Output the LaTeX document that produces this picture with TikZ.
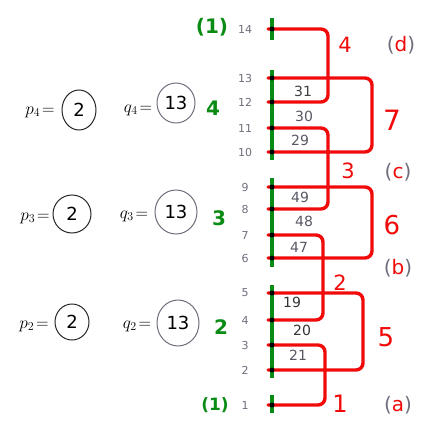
\documentclass[tikz,border=0pt]{standalone}
\usepackage{fontspec}
\setmainfont{DejaVu Sans}
\definecolor{gred}{RGB}{240,10,10}
\definecolor{ggreen}{RGB}{10,140,20}
\definecolor{ggray}{RGB}{110,110,125}
\begin{document}
\begin{tikzpicture}[x=1pt,y=-1pt,
  redline/.style={draw=gred,line width=3.4pt,rounded corners=7pt,line cap=round},
  greenline/.style={draw=ggreen,line width=3.2pt},
  dotmark/.style={circle,fill=black,inner sep=0pt,minimum size=5pt},
  lvl/.style={text=ggray,font=\fontsize{11}{11}\selectfont,anchor=center},
  inner/.style={text=ggray!80!black,font=\fontsize{14}{14}\selectfont,anchor=center},
  grlab/.style={text=ggreen,font=\fontsize{20}{20}\selectfont\bfseries},
  rdlab/.style={text=gred,font=\fontsize{21}{21}\selectfont},
  letlab/.style={font=\fontsize{20}{20}\selectfont},
  ring/.style={draw=black!85,line width=1pt},
  eqlab/.style={font=\fontsize{18}{18}\selectfont}]
\useasboundingbox (0,0) rectangle (438,422);
% level coordinates on the green line
\foreach \n/\y in {14/29,13/78,12/102,11/128,10/152,9/187,8/209,7/235,6/258,5/293,4/320,3/345,2/370,1/405}{
  \coordinate (L\n) at (272,\y);
  \node[lvl] (N\n) at (245,\y) {\n};
}
% green segments
\draw[greenline] (272,18) -- (272,40);
\draw[greenline] (272,70) -- (272,160);
\draw[greenline] (272,178) -- (272,267);
\draw[greenline] (272,285) -- (272,378);
\draw[greenline] (272,395) -- (272,413);
% red brackets
\draw[redline] ([xshift=-4pt]L14) -- ++(60,0) |- ([xshift=-4pt]L12);
\draw[redline] ([xshift=-4pt]L13) -- ++(104,0) |- ([xshift=-4pt]L10);
\draw[redline] ([xshift=-4pt]L11) -- ++(60,0) |- ([xshift=-4pt]L8);
\draw[redline] ([xshift=-4pt]L9) -- ++(104,0) |- ([xshift=-4pt]L6);
\draw[redline] ([xshift=-4pt]L7) -- ++(55,0) |- ([xshift=-4pt]L4);
\draw[redline] ([xshift=-4pt]L5) -- ++(95,0) |- ([xshift=-4pt]L2);
\draw[redline] ([xshift=-4pt]L3) -- ++(57,0) |- ([xshift=-4pt]L1);
% dots
\foreach \n in {14,13,12,11,10,9,8,7,6,5,4,3,2,1}{\node[dotmark] (D\n) at (L\n) {};}
% numbers between levels
\node[inner,text=black!75] (n31) at (303,91) {31};
\node[inner] (n30) at (304,116) {30};
\node[inner] (n29) at (300,140) {29};
\node[inner] (n49) at (300,197) {49};
\node[inner] (n48) at (304,221) {48};
\node[inner] (n47) at (299,247) {47};
\node[inner,text=black!80] (n19) at (292,302) {19};
\node[inner,text=black!80] (n20) at (302,330) {20};
\node[inner] (n21) at (298,355) {21};
% red bracket labels
\node[rdlab] (r4) at (345,45) {4};
\node[rdlab,font=\fontsize{28}{28}\selectfont] (r7) at (392,120) {7};
\node[rdlab] (r3) at (348,171) {3};
\node[rdlab,font=\fontsize{26}{26}\selectfont] (r6) at (392,225) {6};
\node[rdlab] (r2) at (340,283) {2};
\node[rdlab,font=\fontsize{26}{26}\selectfont] (r5) at (386,337) {5};
\node[rdlab,font=\fontsize{24}{24}\selectfont] (r1) at (340,404) {1};
% right letters
\node[letlab] (ld) at (401,45) {\textcolor{ggray}{(}\textcolor{gred}{d}\textcolor{ggray}{)}};
\node[letlab] (lc) at (398,172) {\textcolor{ggray}{(}\textcolor{gred}{c}\textcolor{ggray}{)}};
\node[letlab] (lb) at (398,268) {\textcolor{ggray}{(}\textcolor{gred}{b}\textcolor{ggray}{)}};
\node[letlab] (la) at (398,405) {\textcolor{ggray}{(}\textcolor{gred}{a}\textcolor{ggray}{)}};
% green labels
\node[grlab] (g1top) at (212,27) {(1)};
\node[grlab] (g4) at (213,108) {4};
\node[grlab] (g3) at (219,218) {3};
\node[grlab] (g2) at (221,327) {2};
\node[grlab,font=\fontsize{17}{17}\selectfont\bfseries] (g1bot) at (215,405) {(1)};
% left equations
\node[eqlab] (p4) at (40,112) {$p_4\!=$};
\draw[ring] (79,110) ellipse (17 and 20);
\node[eqlab] (p4v) at (79,110) {2};
\node[eqlab] (q4) at (138,110) {$q_4\!=$};
\draw[ring,draw=ggray] (176,103) ellipse (19 and 20);
\node[eqlab] (q4v) at (176,103) {13};
\node[eqlab] (p3) at (35,218) {$p_3\!=$};
\draw[ring] (72,214) ellipse (19 and 19);
\node[eqlab] (p3v) at (72,214) {2};
\node[eqlab] (q3) at (134,216) {$q_3\!=$};
\draw[ring,draw=ggray] (176,212) ellipse (21 and 22);
\node[eqlab] (q3v) at (176,212) {13};
\node[eqlab] (p2) at (34,326) {$p_2\!=$};
\draw[ring] (72,322) ellipse (17 and 18);
\node[eqlab] (p2v) at (72,322) {2};
\node[eqlab] (q2) at (137,326) {$q_2\!=$};
\draw[ring,draw=ggray] (178,323) ellipse (21 and 23);
\node[eqlab] (q2v) at (178,323) {13};
\end{tikzpicture}
\end{document}
